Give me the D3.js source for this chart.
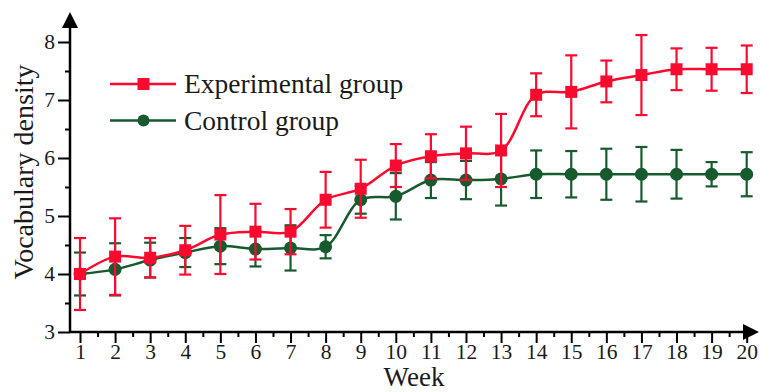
<!DOCTYPE html>
<html>
<head>
<meta charset="utf-8">
<script src="https://cdn.jsdelivr.net/npm/d3@7"></script>
<style>
  html, body { margin: 0; padding: 0; background: #fff; }
  svg { display: block; }
  text { font-family: "Liberation Serif", "Times New Roman", serif; fill: #1a1a1a; }
</style>
</head>
<body>
<svg id="chart" width="760" height="392"></svg>
<script>
const weeks = [1,2,3,4,5,6,7,8,9,10,11,12,13,14,15,16,17,18,19,20];
const expMean = [4.00,4.30,4.28,4.41,4.68,4.73,4.73,5.28,5.47,5.87,6.03,6.08,6.13,7.09,7.14,7.32,7.43,7.53,7.53,7.53];
const expErr  = [0.62,0.66,0.34,0.42,0.68,0.48,0.39,0.48,0.50,0.37,0.38,0.46,0.63,0.37,0.63,0.36,0.69,0.36,0.37,0.41];
const ctrlMean = [4.00,4.08,4.24,4.37,4.48,4.43,4.45,4.47,5.28,5.34,5.62,5.62,5.64,5.72,5.72,5.72,5.72,5.72,5.72,5.72];
const ctrlErr  = [0.37,0.45,0.30,0.25,0.31,0.30,0.39,0.20,0.24,0.40,0.31,0.33,0.46,0.41,0.40,0.44,0.47,0.42,0.21,0.38];
const yTicks = [3,4,5,6,7,8];
const yMinor = [3.5,4.5,5.5,6.5,7.5];
const xMinor = [1.5,2.5,3.5,4.5,5.5,6.5,7.5,8.5,9.5,10.5,11.5,12.5,13.5,14.5,15.5,16.5,17.5,18.5,19.5];
const seriesNames = ["Experimental group", "Control group"];
const xTitle = "Week";
const yTitle = "Vocabulary density";

const RED = "#fb0a30", GREEN = "#175a2e";
const svg = d3.select("#chart");
const x = d3.scaleLinear().domain([1,20]).range([80,746.7]);
const y = d3.scaleLinear().domain([3,8]).range([332,42]);
const axisX0 = 70, axisY0 = 332;

// axes lines
const axisG = svg.append("g");
axisG.append("line").attr("x1",axisX0).attr("x2",748).attr("y1",axisY0).attr("y2",axisY0)
  .attr("stroke","#000").attr("stroke-width",2.5);
axisG.append("line").attr("x1",axisX0).attr("x2",axisX0).attr("y1",axisY0+1).attr("y2",24)
  .attr("stroke","#000").attr("stroke-width",2.5);
axisG.append("path").attr("d",`M${axisX0},12 L${axisX0-8},28 L${axisX0+8},28 Z`).attr("fill","#000");
axisG.append("path").attr("d",`M759,${axisY0} L743,${axisY0-8} L743,${axisY0+8} Z`).attr("fill","#000");

// x ticks
const xAxis = d3.axisBottom(x).tickValues(weeks).tickSize(11).tickFormat(d3.format("d"));
const gx = svg.append("g").attr("transform",`translate(0,${axisY0})`).call(xAxis);
gx.select(".domain").remove();
gx.selectAll(".tick line").attr("stroke","#000").attr("stroke-width",2);
gx.selectAll(".tick text").attr("font-size",21.5).attr("dy","0.9em").attr("y",8)
  .style("font-family","'Liberation Serif', serif").attr("fill","#1a1a1a");
const gxm = svg.append("g").attr("transform",`translate(0,${axisY0})`)
  .call(d3.axisBottom(x).tickValues(xMinor).tickSize(5).tickFormat(""));
gxm.select(".domain").remove();
gxm.selectAll(".tick line").attr("stroke","#000").attr("stroke-width",2);

// y ticks
const gy = svg.append("g").attr("transform",`translate(${axisX0},0)`)
  .call(d3.axisLeft(y).tickValues(yTicks).tickSize(12).tickFormat(d3.format("d")));
gy.select(".domain").remove();
gy.selectAll(".tick line").attr("stroke","#000").attr("stroke-width",2);
gy.selectAll(".tick text").attr("font-size",21.5).attr("x",-15)
  .style("font-family","'Liberation Serif', serif").attr("fill","#1a1a1a");
const gym = svg.append("g").attr("transform",`translate(${axisX0},0)`)
  .call(d3.axisLeft(y).tickValues(yMinor).tickSize(5).tickFormat(""));
gym.select(".domain").remove();
gym.selectAll(".tick line").attr("stroke","#000").attr("stroke-width",2);

// titles
svg.append("text").attr("x",414).attr("y",386).attr("text-anchor","middle")
  .attr("font-size",27).text(xTitle);
svg.append("text").attr("transform","translate(33,172) rotate(-90)").attr("text-anchor","middle")
  .attr("font-size",28).text(yTitle);

const line = d3.line().x((d,i)=>x(weeks[i])).y(d=>y(d)).curve(d3.curveCatmullRom.alpha(0.5));

function drawSeries(mean, err, color, marker) {
  const g = svg.append("g");
  g.append("path").attr("d", line(mean)).attr("fill","none").attr("stroke",color).attr("stroke-width",2.5);
  const eb = g.selectAll(".eb").data(mean).enter().append("g");
  eb.append("line").attr("x1",(d,i)=>x(weeks[i])).attr("x2",(d,i)=>x(weeks[i]))
    .attr("y1",(d,i)=>y(d+err[i])).attr("y2",(d,i)=>y(d-err[i]))
    .attr("stroke",color).attr("stroke-width",2.2);
  [1,-1].forEach(s=>{
    eb.append("line").attr("x1",(d,i)=>x(weeks[i])-6).attr("x2",(d,i)=>x(weeks[i])+6)
      .attr("y1",(d,i)=>y(d+s*err[i])).attr("y2",(d,i)=>y(d+s*err[i]))
      .attr("stroke",color).attr("stroke-width",2.2);
  });
  if (marker === "square") {
    g.selectAll(".m").data(mean).enter().append("rect")
      .attr("x",(d,i)=>x(weeks[i])-6).attr("y",d=>y(d)-6).attr("width",12).attr("height",12).attr("fill",color);
  } else {
    g.selectAll(".m").data(mean).enter().append("circle")
      .attr("cx",(d,i)=>x(weeks[i])).attr("cy",d=>y(d)).attr("r",6.5).attr("fill",color);
  }
}
drawSeries(ctrlMean, ctrlErr, GREEN, "circle");
drawSeries(expMean, expErr, RED, "square");

// legend
const leg = svg.append("g");
const legItems = [{name:seriesNames[0], color:RED, m:"square", y:84},{name:seriesNames[1], color:GREEN, m:"circle", y:120.5}];
legItems.forEach(it=>{
  leg.append("line").attr("x1",110).attr("x2",176).attr("y1",it.y).attr("y2",it.y).attr("stroke",it.color).attr("stroke-width",2.5);
  if (it.m==="square") leg.append("rect").attr("x",137.5).attr("y",it.y-6).attr("width",12).attr("height",12).attr("fill",it.color);
  else leg.append("circle").attr("cx",143.5).attr("cy",it.y).attr("r",6).attr("fill",it.color);
  leg.append("text").attr("x",184).attr("y",it.y+9).attr("font-size",27.5).text(it.name);
});
</script>
</body>
</html>
